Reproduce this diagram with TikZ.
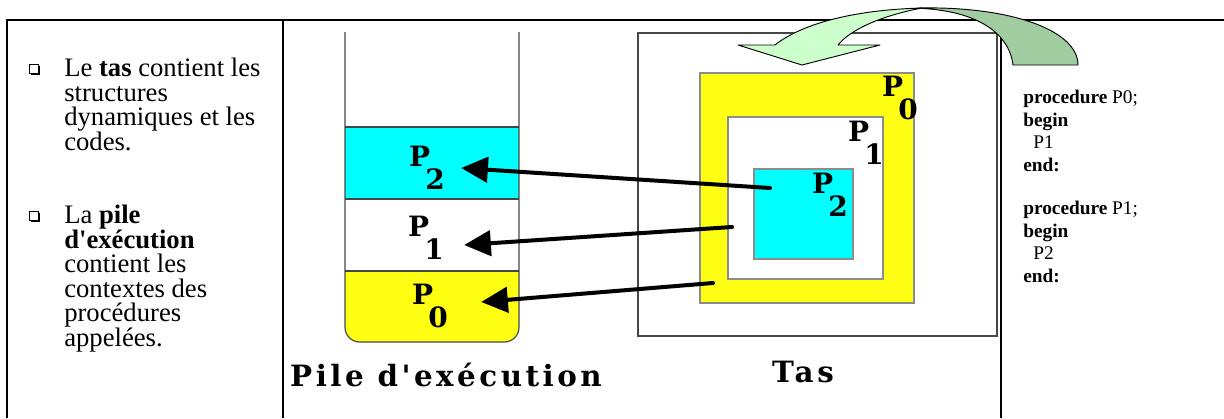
\documentclass[tikz,border=0pt]{standalone}
\usepackage{fontspec}
\setmainfont{Liberation Serif}[Ligatures=TeXOff]
\newfontfamily\slab{DejaVu Serif}
\newfontfamily\slabwide[LetterSpace=12]{DejaVu Serif}
\usepackage{tikz}
\usetikzlibrary{arrows.meta,positioning,calc,shadows}
\definecolor{stackCyan}{RGB}{0,255,255}
\definecolor{stackYellow}{RGB}{255,255,20}
\definecolor{arcMint}{RGB}{204,255,204}
\definecolor{arcSage}{RGB}{160,204,160}
\definecolor{boxGray}{RGB}{140,140,140}
\definecolor{tubeGray}{RGB}{70,70,70}
\newcommand\pname[1]{P\kern-3.5pt\raisebox{-17.5pt}{#1}}

\begin{document}
\begin{tikzpicture}[x=0.75pt,y=-0.75pt,
    txt/.style={font=\fontsize{20}{18.4}\selectfont, align=left, inner sep=0pt, anchor=north west},
    code/.style={font=\fontsize{14.5}{16.9}\selectfont, align=left, inner sep=0pt, anchor=north west},
    bul/.style={draw, line width=0.6pt, fill=white, minimum size=7pt, inner sep=0pt,
                drop shadow={shadow xshift=1.1pt, shadow yshift=-1.1pt, opacity=1, fill=black}},
    lab/.style={font=\slab\bfseries\fontsize{21}{21}\selectfont, inner sep=0pt},
    title/.style={font=\slabwide\bfseries\fontsize{22}{22}\selectfont, inner sep=0pt},
    box/.style={draw=boxGray, line width=0.9pt},
    tube/.style={draw=tubeGray, line width=0.9pt},
    arr/.style={-{Triangle[length=20pt,width=19pt]}, line width=3pt, line cap=round},
    arcline/.style={draw=black, line width=0.7pt, line join=round}
  ]
  \useasboundingbox (0,0) rectangle (1224,418);
  % table frame
  \draw[line width=1.5pt] (7,418) -- (7,20) -- (1224,20);
  \draw[line width=1.5pt] (283,20) -- (283,418);
  \draw[line width=1.5pt] (1001,20) -- (1001,418);

  % left column
  \node[bul] (b1) at (34,69) {};
  \node[txt] (t1) at (64,58) {Le \textbf{tas} contient les\\structures\\dynamiques et les\\codes.};
  \node[bul] (b2) at (34,216) {};
  \node[txt] (t2) at (64,205) {La \textbf{pile}\\\textbf{d'exécution}\\contient les\\contextes des\\procédures\\appelées.};

  % execution stack
  \fill[stackCyan] (345,127) rectangle (519,199);
  \fill[stackYellow] (345,271) {[rounded corners=11pt] -- (345,342) -- (519,342)} -- (519,271) -- cycle;
  \draw[tube] (345,32) {[rounded corners=11pt] -- (345,342) -- (519,342)} -- (519,32);
  \draw[tube] (345,127) -- (519,127);
  \draw[tube] (345,199) -- (519,199);
  \draw[tube] (345,271) -- (519,271);
  \node[lab] (l2) at (427,168) {\pname{2}};
  \node[lab] (l1) at (426,238) {\pname{1}};
  \node[lab] (l0) at (430,306) {\pname{0}};
  \node[title] (pile) at (446,375) {Pile d'exécution};

  % heap
  \draw[draw=tubeGray, line width=1.1pt] (638,33) rectangle (997,336);
  \draw[box, fill=stackYellow] (700,73) rectangle (914,303);
  \draw[box, fill=white] (728,117) rectangle (883,279);
  \draw[box, fill=stackCyan] (754,169) rectangle (853,259);
  \node[lab] (h0) at (900,98) {\pname{0}};
  \node[lab] (h1) at (866,143) {\pname{1}};
  \node[lab] (h2) at (830,195) {\pname{2}};
  \node[title] (tas) at (803,372) {Tas};

  % pointers heap -> stack
  \coordinate (c2) at (770,188);
  \coordinate (c1) at (732,227);
  \coordinate (c0) at (713,283);
  \draw[arr] (c2) -- ($(l2.east)+(16,0)$);
  \draw[arr] (c1) -- ($(l1.east)+(20,7)$);
  \draw[arr] (c0) -- ($(l0.east)+(33,-4)$);

  % code column
  \node[code] (p0) at (1023,90) {\textbf{procedure} P0;\\\textbf{begin}\\\hspace*{7.5pt}P1\\\textbf{end:}};
  \node[code] (p1) at (1023,201) {\textbf{procedure} P1;\\\textbf{begin}\\\hspace*{7.5pt}P2\\\textbf{end:}};

  % curved arrow from code to heap
  \draw[arcline, fill=arcSage] (918,8) .. controls (1010,6) and (1078,30) .. (1078,65)
    -- (1013,65) .. controls (1010,38) and (985,14) .. (930,9) -- cycle;
  \draw[arcline, fill=arcMint] (738,45) -- (775,45) .. controls (800,25) and (850,10) .. (922,8)
    .. controls (880,16) and (850,30) .. (838,45) -- (880,45) -- (802,65) -- cycle;
\end{tikzpicture}
\end{document}
